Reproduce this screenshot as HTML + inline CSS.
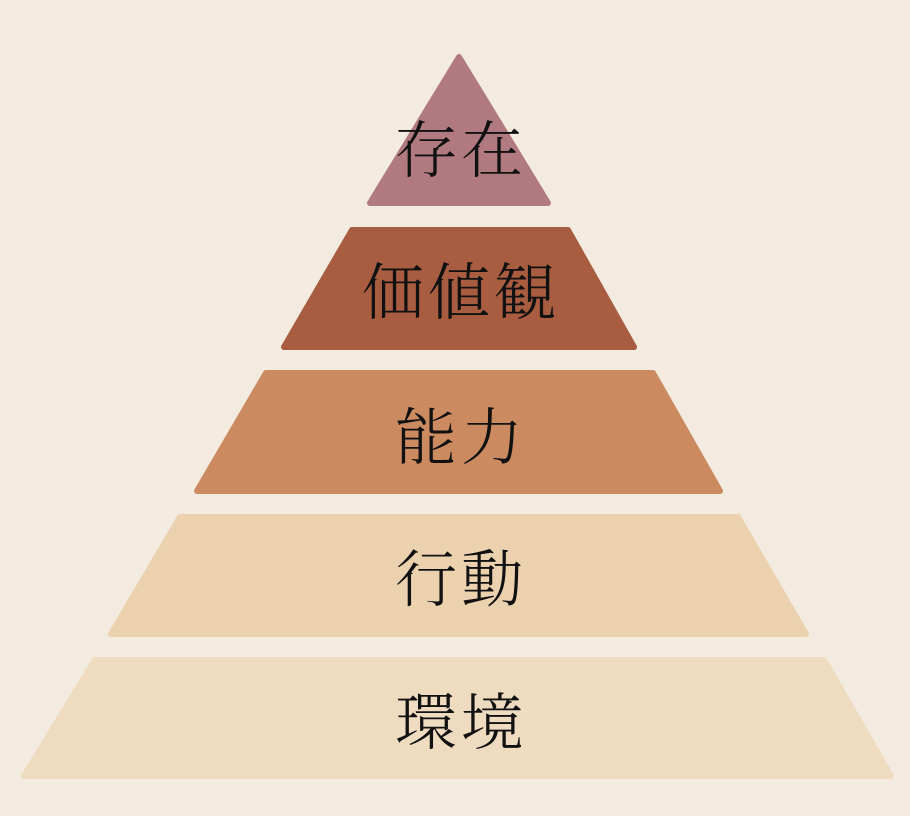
<!DOCTYPE html>
<html><head><meta charset="utf-8"><style>
html,body{margin:0;padding:0;background:#f3ebe0;}
svg{display:block}
text{font-family:"Liberation Serif","Noto Serif CJK JP","Noto Serif CJK SC",serif;font-size:62px;font-weight:300;fill:#111;text-anchor:middle;dominant-baseline:central;letter-spacing:4px;}
</style></head><body>
<svg width="910" height="816" viewBox="0 0 910 816" xmlns="http://www.w3.org/2000/svg">
<rect width="910" height="816" fill="#f3ebe0"/>
<g stroke-linejoin="round" stroke-width="6">
<polygon points="459,57 548,203 370,203" fill="#b07a80" stroke="#b07a80"/>
<polygon points="352,230 568,230 634,347 284,347" fill="#a85c40" stroke="#a85c40"/>
<polygon points="266,373 653,373 720,491 197,491" fill="#cc8a60" stroke="#cc8a60"/>
<polygon points="180,517 738,517 806,634 111,634" fill="#ebd1ae" stroke="#ebd1ae"/>
<polygon points="95,660 824,660 891,776 24,776" fill="#efdcc0" stroke="#efdcc0"/>
</g>
<text x="461" y="152">存在</text>
<text x="461" y="294">価値観</text>
<text x="461" y="439">能力</text>
<text x="461" y="581">行動</text>
<text x="461" y="724">環境</text>
</svg>
</body></html>
